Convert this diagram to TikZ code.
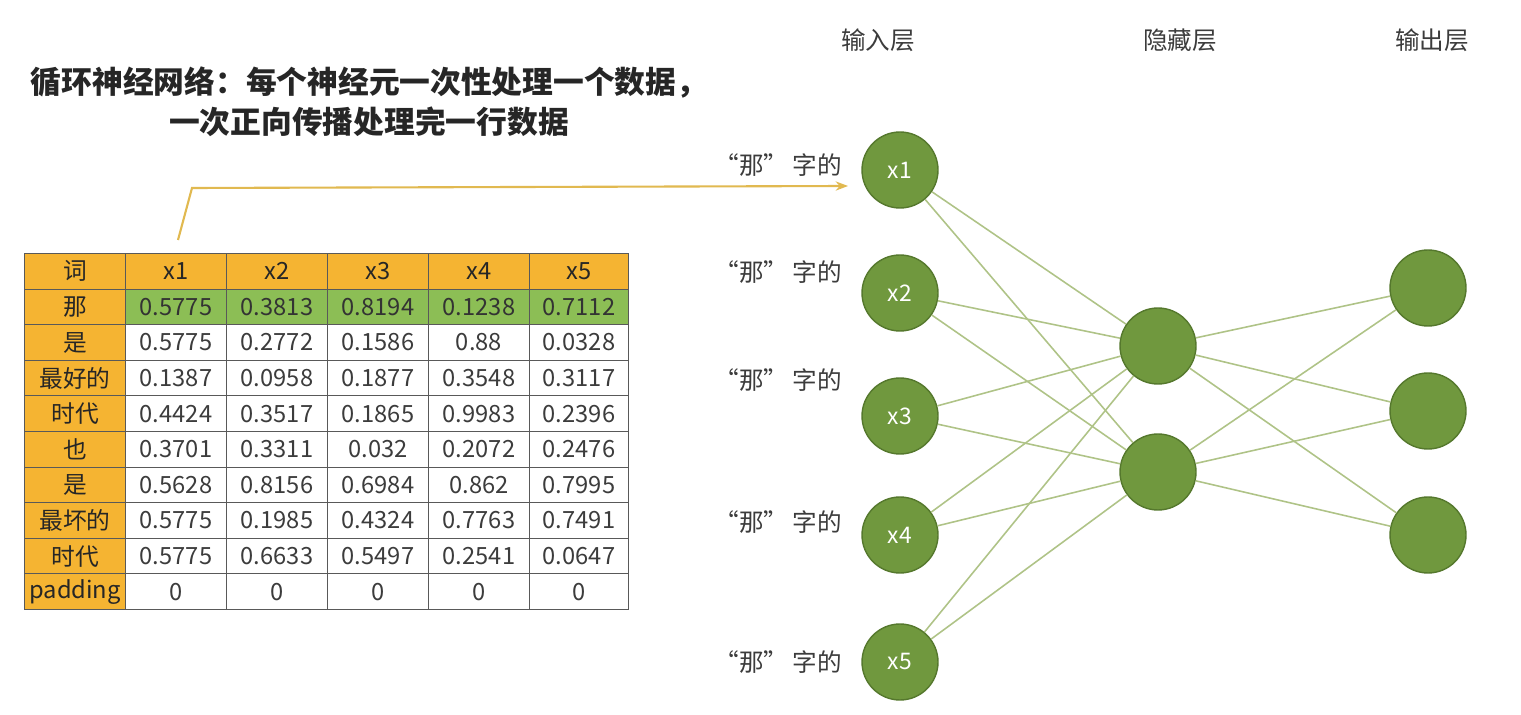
\documentclass[tikz,border=0pt]{standalone}
\usepackage{fontspec}
\setmainfont{Noto Sans CJK SC}
\usetikzlibrary{arrows.meta}
\definecolor{tbor}{RGB}{245,180,50}
\definecolor{tgrn}{RGB}{140,190,85}
\definecolor{neu}{RGB}{112,152,62}
\definecolor{neub}{RGB}{85,120,45}
\definecolor{conn}{RGB}{175,195,135}
\definecolor{arr}{RGB}{225,185,80}
\definecolor{txt}{RGB}{60,60,60}
\begin{document}
\begin{tikzpicture}[x=0.02cm,y=-0.02cm,
  cell/.style={draw=gray!70!black,line width=0.6pt,minimum width=101*0.02cm,minimum height=35.6*0.02cm,inner sep=0pt,font=\fontsize{13.5}{13.5}\selectfont,text=txt,anchor=north west},
  hcell/.style={cell,fill=tbor,text=black!85},
  gcell/.style={cell,fill=tgrn,text=black!80},
  neuron/.style={circle,fill=neu,draw=neub,line width=0.8pt,minimum size=1.52cm,inner sep=0pt,text=white,font=\fontsize{13}{13}\selectfont},
  lyr/.style={font=\fontsize{14}{14}\selectfont,text=txt},
  lab/.style={font=\fontsize{14}{14}\selectfont,text=txt,anchor=east},
  wire/.style={draw=conn,line width=0.9pt}]
\useasboundingbox (0,0) rectangle (1521,715);
\node[font=\bfseries\fontsize{17.5}{23}\selectfont,align=center,text=black!85] (title) at (369,102) {循环神经网络：每个神经元一次性处理一个数据，\\一次正向传播处理完一行数据};
\foreach \r/\w/\a/\b/\c/\d/\e [count=\i from 0] in {
 词/x1/x2/x3/x4/x5,
 那/0.5775/0.3813/0.8194/0.1238/0.7112,
 是/0.5775/0.2772/0.1586/0.88/0.0328,
 最好的/0.1387/0.0958/0.1877/0.3548/0.3117,
 时代/0.4424/0.3517/0.1865/0.9983/0.2396,
 也/0.3701/0.3311/0.032/0.2072/0.2476,
 是/0.5628/0.8156/0.6984/0.862/0.7995,
 最坏的/0.5775/0.1985/0.4324/0.7763/0.7491,
 时代/0.5775/0.6633/0.5497/0.2541/0.0647,
 padding/0/0/0/0/0}{
  \pgfmathsetmacro{\yy}{253+35.6*\i}
  \ifnum\i=0 \def\st{hcell}\else\ifnum\i=1 \def\st{gcell}\else\def\st{cell}\fi\fi
  \node[hcell] (c\i-0) at (24,\yy) {\r};
  \node[\st] (c\i-1) at (125,\yy) {\w};
  \node[\st] (c\i-2) at (226,\yy) {\a};
  \node[\st] (c\i-3) at (327,\yy) {\b};
  \node[\st] (c\i-4) at (428,\yy) {\c};
  \node[\st,minimum width=99*0.02cm] (c\i-5) at (529,\yy) {\d};
}
\node[lyr] (L1) at (878,40) {输入层};
\node[lyr] (L2) at (1180,40) {隐藏层};
\node[lyr] (L3) at (1432,40) {输出层};
\foreach \k/\y in {1/170,2/293,3/416,4/535,5/662}{
  \node[neuron] (x\k) at (900,\y) {x\k};
}
\foreach \k/\y in {1/165,2/272,3/380,4/522,5/662}{
  \node[lab] (t\k) at (848,\y) {“那”\,字的};
}
\node[neuron] (h1) at (1158,346) {};
\node[neuron] (h2) at (1158,472) {};
\foreach \k/\y in {1/288,2/411,3/535}{\node[neuron] (o\k) at (1428,\y) {};}
\foreach \i in {1,...,5}{\foreach \j in {1,2}{\draw[wire] (x\i) -- (h\j);}}
\foreach \j in {1,2}{\foreach \k in {1,2,3}{\draw[wire] (h\j) -- (o\k);}}
\coordinate (as) at (178,240);
\coordinate (ab) at (192,188);
\coordinate (ae) at (848,186);
\draw[arr,line width=1.2pt,-{Stealth[length=7pt]}] (as) -- (ab) -- (ae);
\end{tikzpicture}
\end{document}
